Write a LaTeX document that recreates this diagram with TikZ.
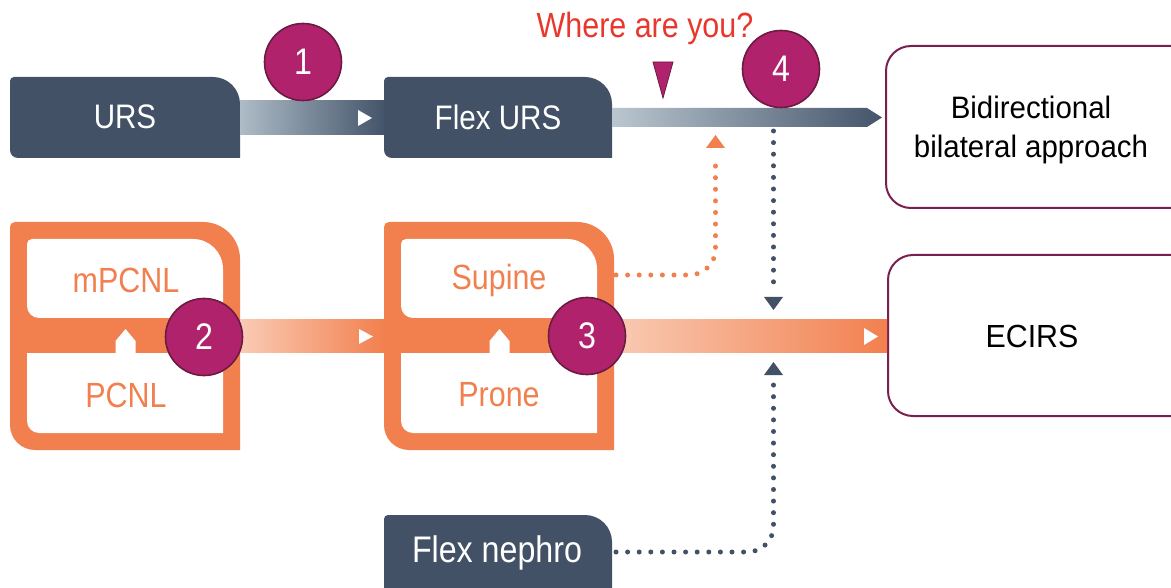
\documentclass[tikz,border=0pt]{standalone}
\usepackage{fontspec}
\setmainfont{Liberation Sans}
\newfontfamily\condf[FakeStretch=0.87]{Liberation Sans}
\newfontfamily\plainf[FakeStretch=0.95]{Liberation Sans}
\usetikzlibrary{arrows.meta}
\definecolor{dark}{HTML}{425166}
\definecolor{orangeC}{HTML}{F2804F}
\definecolor{peach}{HTML}{F9CBB4}
\definecolor{magC}{HTML}{B1226C}
\definecolor{magB}{HTML}{6B1A42}
\definecolor{boxB}{HTML}{7A2050}
\definecolor{barL}{HTML}{AEBCC7}
\definecolor{barD}{HTML}{44546A}
\definecolor{redT}{HTML}{E8372C}
\newcommand\rfill[9]{%
\fill[#1] ({#2},{#3+#6}) .. controls ({#2},{#3+0.448*#6}) and ({#2+0.448*#6},{#3}) .. ({#2+#6},{#3})
 -- ({#4-#7},{#3}) .. controls ({#4-0.448*#7},{#3}) and ({#4},{#3+0.448*#7}) .. ({#4},{#3+#7})
 -- ({#4},{#5-#8}) .. controls ({#4},{#5-0.448*#8}) and ({#4-0.448*#8},{#5}) .. ({#4-#8},{#5})
 -- ({#2+#9},{#5}) .. controls ({#2+0.448*#9},{#5}) and ({#2},{#5-0.448*#9}) .. ({#2},{#5-#9}) -- cycle;}
\tikzset{
 darklabel/.style={text=white,font=\condf\fontsize{34}{40}\selectfont,inner sep=0pt},
 orlabel/.style={text=orangeC,font=\condf\fontsize{35}{40}\selectfont,inner sep=0pt},
 numcirc/.style={circle,fill=magC,draw=magB,line width=1.6pt,minimum size=77pt,inner sep=0pt,
   text=white,font=\condf\fontsize{37}{40}\selectfont},
 rightbox/.style={draw=boxB,line width=2pt,fill=white,rounded corners=25pt},
 blacklabel/.style={text=black,font=\plainf\fontsize{31}{39}\selectfont,align=center,inner sep=0pt},
 dotsD/.style={draw=dark,line width=5pt,line cap=round,dash pattern=on 0pt off 11.6pt,rounded corners=26pt},
 dotsO/.style={draw=orangeC,line width=5pt,line cap=round,dash pattern=on 0pt off 11.6pt,rounded corners=26pt},
 wtri/.style={fill=white},
}
\begin{document}
\begin{tikzpicture}[x=1pt,y=-1pt]
\useasboundingbox (0,0) rectangle (1171,588);
\fill[white] (0,0) rectangle (1171,588);
\clip (0,0) rectangle (1171,588);
% ---------- dark boxes
\rfill{dark}{10}{77}{240}{158}{4}{27}{0}{8}
\rfill{dark}{384}{77}{612}{158}{4}{27}{0}{8}
\rfill{dark}{384}{515}{612}{600}{4}{27}{0}{8}
\node[darklabel] (urs) at (125,117) {URS};
\node[darklabel] (flexurs) at (498,117) {Flex URS};
\node[darklabel,font=\condf\fontsize{37}{40}\selectfont] (nephro) at (497,553) {Flex nephro};
% ---------- orange composites
\foreach \dx in {0,374}{
 \begin{scope}[xshift=\dx]
 \rfill{orangeC}{10}{222}{240}{450}{5}{37}{0}{25}
 \rfill{white}{27}{239}{223}{318}{5}{30}{0}{12}
 \rfill{white}{27}{353}{223}{433}{0}{14}{0}{12}
 \fill[white] (115.5,354) -- (115.5,341) -- (125.5,329) -- (135.5,341) -- (135.5,354) -- cycle;
 \end{scope}}
\node[orlabel] (mpcnl) at (126,280) {mPCNL};
\node[orlabel] (pcnl) at (126,395) {PCNL};
\node[orlabel] (supine) at (499,280) {Supine};
\node[orlabel] (prone) at (499,395) {Prone};
% ---------- right boxes
\node[rightbox,minimum width=315pt,minimum height=162pt,anchor=north west] (bidirbox) at (885,45) {};
\node[rightbox,minimum width=313pt,minimum height=161pt,anchor=north west] (ecirsbox) at (887,254) {};
\node[blacklabel] (bidir) at (1031,130) {Bidirectional\\bilateral approach};
\node[blacklabel,font=\plainf\fontsize{32}{38}\selectfont] (ecirs) at (1032,336) {ECIRS};
% ---------- coordinates for connectors
\coordinate (b1s) at (240,101); \coordinate (b1e) at (384,135);
\coordinate (b2s) at (240,320); \coordinate (b2e) at (384,352);
\coordinate (b3s) at (612,320); \coordinate (b3e) at (ecirsbox.west |- 0,352);
% ---------- bars
\shade[left color=barL,right color=barD] (b1s) rectangle (b1e);
\fill[wtri] (358,110) -- (372,118) -- (358,126) -- cycle;
\shade[left color=barL!85!white,right color=barD] (612,108) -- (867,108) -- (882,117.5) -- (867,127) -- (612,127) -- cycle;
\shade[left color=peach,right color=orangeC] (b2s) rectangle (b2e);
\fill[wtri] (359,329) -- (373,336.5) -- (359,344) -- cycle;
\shade[left color=peach,right color=orangeC] (b3s) rectangle (b3e);
\fill[wtri] (864,328) -- (878,336.5) -- (864,345) -- cycle;
% ---------- dotted connectors
\coordinate (supR) at (616,275);
\coordinate (oTip) at (715.5,135);
\draw[dotsO] (supR) -| (715.5,156);
\fill[orangeC] (706,148) -- (725,148) -- (oTip) -- cycle;
\coordinate (dTop) at (773.5,131);
\coordinate (dDownTip) at (773.5,310);
\draw[dotsD] (dTop) -- (773.5,291);
\fill[dark] (764,297) -- (783,297) -- (dDownTip) -- cycle;
\coordinate (nephR) at (616,552);
\coordinate (dUpTip) at (773.5,362);
\draw[dotsD] (nephR) -| (773.5,381);
\fill[dark] (764,375) -- (783,375) -- (dUpTip) -- cycle;
% ---------- where are you
\node[text=redT,font=\condf\fontsize{35}{40}\selectfont,inner sep=0pt] (where) at (645,28) {Where are you?};
\fill[magC,draw=magB,line width=0.8pt] (653,62) -- (673,62) -- (663,98) -- cycle;
% ---------- circles
\node[numcirc] (c1) at (303,62) {1};
\node[numcirc] (c2) at (204,337) {2};
\node[numcirc] (c3) at (587,336) {3};
\node[numcirc] (c4) at (781,69) {4};
\end{tikzpicture}
\end{document}
